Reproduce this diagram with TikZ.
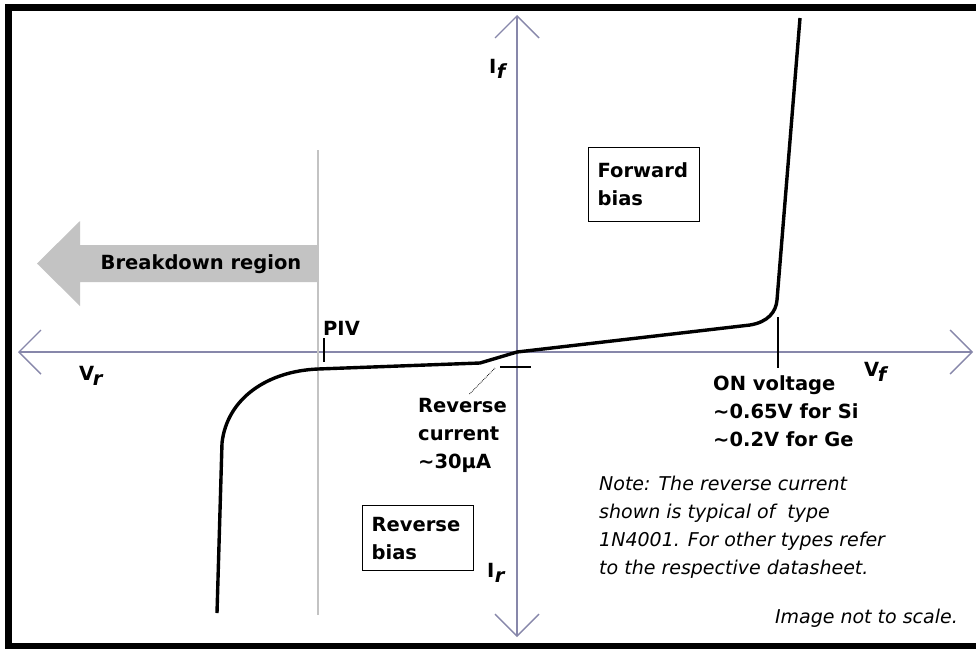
\documentclass[tikz,border=0pt]{standalone}
\usepackage{fontspec}
\setmainfont{DejaVu Sans}
\usetikzlibrary{arrows.meta}
\definecolor{achsgrau}{RGB}{135,135,170}
\definecolor{pivgrau}{RGB}{195,195,195}

\begin{document}
\begin{tikzpicture}[x=1pt,y=-1pt,
  achse/.style={line width=2.6pt, achsgrau,
    {Straight Barb[length=22pt,width=44pt,line width=1.4pt]}-{Straight Barb[length=22pt,width=44pt,line width=1.4pt]}},
  kennlinie/.style={line width=3.4pt, line join=round},
  marke/.style={line width=1.2pt},
  fett/.style={font=\fontsize{19.5}{28}\selectfont\bfseries, inner sep=0pt, align=left},
  kasten/.style={fett, draw, line width=1.3pt, inner xsep=9pt, text width=93pt},
  notiz/.style={font=\fontsize{19}{28}\selectfont\itshape, inner sep=0pt, align=left}]
  \useasboundingbox (0,0) rectangle (976,649);
  \fill[white] (0,0) rectangle (976,649);

  % Rahmen
  \fill (5,4) rectangle (12,649);
  \fill (5,4) rectangle (976,11);
  \fill (5,643) rectangle (976,649);

  % Achsen
  \coordinate (O) at (517,352);
  \coordinate (VL) at (18,352);
  \coordinate (VR) at (973,352);
  \coordinate (IO) at (517,15);
  \coordinate (IU) at (517,637);
  \draw[achse] (VL) -- (VR);
  \draw[achse] (IU) -- (IO);

  % Durchbruchbereich
  \coordinate (P1) at (318,150);
  \coordinate (P2) at (318,615);
  \fill[pivgrau] (318,245) -- (80,245) -- (80,221) -- (37,263.5) -- (80,306) -- (80,282) -- (318,282) -- cycle;
  \draw[pivgrau, line width=2pt] (P1) -- (P2);
  \node[fett] (durchbruch) at (201,264) {Breakdown region};

  % Kennlinie
  \draw[kennlinie] (217,613) -- (222,443)
    .. controls (227,398) and (268,371) .. (318,369)
    -- (480,363) -- (O) -- (750,325)
    .. controls (768,322) and (776,312) .. (777,300)
    -- (800,18);

  % Markierungen
  \draw[marke] (324,338) -- (324,362);
  \draw[marke] (778,317) -- (778,368);
  \draw[marke] (500,367) -- (531,367);
  \node[fett, anchor=west] (piv) at (323,328) {PIV};

  % Achsenbeschriftung
  \node[fett, anchor=west] (if) at (489,69) {I\kern0.5pt\raisebox{-5pt}{\itshape f}};
  \node[fett, anchor=west] (ir) at (487,573) {I\kern0.5pt\raisebox{-5pt}{\itshape r}};
  \node[fett, anchor=west] (vr) at (79,376) {V\kern-1.5pt\raisebox{-5pt}{\itshape r}};
  \node[fett, anchor=west] (vf) at (864,372) {V\kern-1.5pt\raisebox{-5pt}{\itshape f}};

  % Texte
  \node[fett, anchor=north west] (einschalt) at (713,375)
    {ON voltage\\\textasciitilde0.65V for Si\\\textasciitilde0.2V for Ge};
  \node[fett, anchor=north west] (rstrom) at (418,398)
    {Reverse\\current\\\textasciitilde30µA};
  \coordinate (rleck) at (495,368);
  \draw[line width=0.8pt, densely dotted] (rstrom.north) ++(7,-4) -- (rleck);

  \node[kasten, anchor=north west, minimum height=74pt] (vorwaerts) at (588,147) {Forward\\bias};
  \node[kasten, anchor=north west, minimum height=65pt] (rueckwaerts) at (362,505) {Reverse\\bias};

  \node[notiz, anchor=north west] (hinweis) at (599,476)
    {Note: The reverse current\\shown is typical of\ \ type\\1N4001. For other types refer\\to the respective datasheet.};
  \node[notiz, anchor=base east] (massstab) at (958,623) {Image not to scale.};
\end{tikzpicture}
\end{document}
